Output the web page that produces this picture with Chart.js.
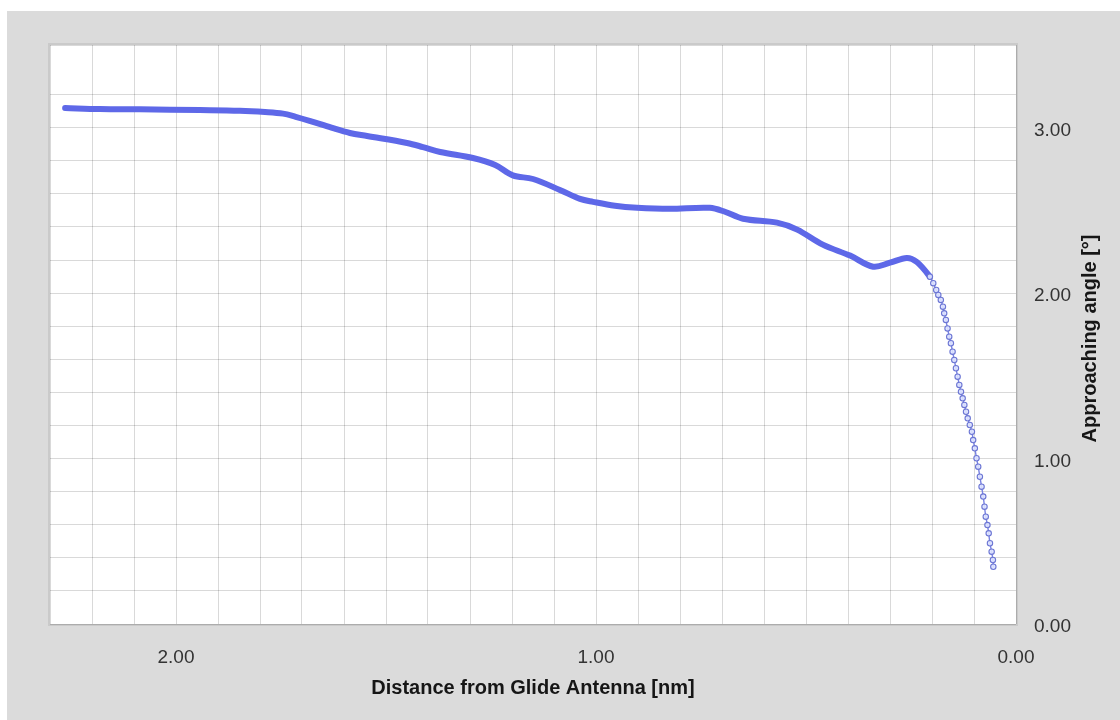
<!DOCTYPE html>
<html>
<head>
<meta charset="utf-8">
<title>Approaching angle vs distance</title>
<script src="https://cdn.jsdelivr.net/npm/chart.js@4.4.0/dist/chart.umd.min.js"></script>
<style>
  html, body { margin: 0; padding: 0; background: #ffffff; }
  #wrap { width: 1120px; height: 720px; position: relative; }
  canvas { display: block; }
</style>
</head>
<body>
<div id="wrap"><canvas id="chart" width="1120" height="720"></canvas></div>
<script>
// Distance from the glide antenna [nm], in flight order (far to near)
const distanceNm = [
  2.264, 2.181, 2.086, 1.943, 1.848, 1.788, 1.745, 1.715, 1.680, 1.630,
  1.586, 1.545, 1.450, 1.412, 1.371, 1.293, 1.240, 1.198, 1.150, 1.086,
  1.038, 1.007, 0.955, 0.902, 0.824, 0.729, 0.693, 0.650, 0.569, 0.521,
  0.460, 0.395, 0.340, 0.300, 0.260, 0.236,
  0.205, 0.197, 0.190, 0.185, 0.179, 0.174, 0.171, 0.167, 0.163, 0.159,
  0.155, 0.151, 0.147, 0.143, 0.139, 0.135, 0.131, 0.127, 0.123, 0.119,
  0.115, 0.110, 0.105, 0.102, 0.098, 0.094, 0.090, 0.086, 0.082, 0.078,
  0.075, 0.072, 0.068, 0.065, 0.062, 0.058, 0.055, 0.054
];

// Approaching angle [deg] at each distance
const angleDeg = [
  3.119, 3.113, 3.111, 3.107, 3.103, 3.095, 3.085, 3.066, 3.040, 3.000,
  2.968, 2.950, 2.908, 2.883, 2.853, 2.817, 2.775, 2.712, 2.690, 2.624,
  2.570, 2.552, 2.528, 2.516, 2.510, 2.516, 2.492, 2.450, 2.426, 2.384,
  2.293, 2.227, 2.160, 2.184, 2.213, 2.188,
  2.099, 2.060, 2.019, 1.989, 1.959, 1.918, 1.878, 1.838, 1.787, 1.737,
  1.697, 1.646, 1.596, 1.546, 1.495, 1.445, 1.404, 1.364, 1.324, 1.283,
  1.243, 1.203, 1.162, 1.112, 1.062, 1.002, 0.951, 0.890, 0.830, 0.770,
  0.709, 0.649, 0.598, 0.548, 0.488, 0.437, 0.387, 0.346
];

// Labelled tick values
const xTickLabels = [0, 1, 2];
const yTickLabels = [0, 1, 2, 3];

const xTitle = 'Distance from Glide Antenna [nm]';
const yTitle = 'Approaching angle [°]';

const points = distanceNm.map((d, i) => ({ x: d, y: angleDeg[i] }));

const FONT = '"Liberation Sans", Arial, Helvetica, sans-serif';
const GRID = 'rgba(0,0,0,0.15)';

function labelFor(value, list) {
  const hit = list.find(v => Math.abs(v - value) < 1e-6);
  return hit === undefined ? '' : hit.toFixed(2);
}

// Grey panel, framed white plot area and the upward-reading right-hand title
const framePlugin = {
  id: 'frame',
  beforeDraw(chart) {
    const { ctx, chartArea: a, width, height } = chart;
    ctx.save();
    ctx.fillStyle = '#ffffff';
    ctx.fillRect(0, 0, width, height);
    ctx.fillStyle = '#dbdbdb';
    ctx.fillRect(7, 11, width - 7, height - 11);
    ctx.fillStyle = '#cacaca';
    ctx.fillRect(a.left - 2, a.top - 2, a.right - a.left + 4, a.bottom - a.top + 4);
    ctx.fillStyle = '#ffffff';
    ctx.fillRect(a.left, a.top, a.right - a.left, a.bottom - a.top);
    ctx.restore();
  },
  afterDraw(chart) {
    const { ctx, chartArea: a } = chart;
    ctx.save();
    ctx.translate(1090, (a.top + a.bottom) / 2 + 4);
    ctx.rotate(-Math.PI / 2);
    ctx.font = 'bold 20px ' + FONT;
    ctx.fillStyle = '#161616';
    ctx.textAlign = 'center';
    ctx.textBaseline = 'middle';
    ctx.fillText(yTitle, 0, 0);
    ctx.restore();
  }
};

// Near the antenna the samples spread apart and are drawn as thin line + markers
const THICK_UNTIL = 0.2;
const MARKERS_FROM = 0.206;
const BAND = 'rgb(94,104,232)';

new Chart(document.getElementById('chart'), {
  type: 'line',
  data: {
    datasets: [{
      data: points,
      borderColor: BAND,
      borderWidth: 6,
      borderCapStyle: 'round',
      borderJoinStyle: 'round',
      tension: 0.35,
      fill: false,
      segment: {
        borderWidth: ctx => ctx.p1.parsed.x >= THICK_UNTIL ? 6 : 1.4,
        borderColor: ctx => ctx.p1.parsed.x >= THICK_UNTIL ? BAND : 'rgb(120,130,226)'
      },
      pointRadius: ctx => (ctx.raw && ctx.raw.x < MARKERS_FROM) ? 2.7 : 0,
      pointBorderWidth: 1.1,
      pointBorderColor: 'rgb(108,118,212)',
      pointBackgroundColor: 'rgba(222,227,255,0.9)',
      pointHoverRadius: 0
    }]
  },
  options: {
    responsive: false,
    animation: false,
    devicePixelRatio: 1,
    layout: { padding: { left: 50, top: 45, right: 0, bottom: 0 } },
    plugins: {
      legend: { display: false },
      tooltip: { enabled: false }
    },
    scales: {
      x: {
        type: 'linear',
        reverse: true,
        min: 0,
        max: 2.3,
        afterFit: s => { s.height = 96; },
        grid: { color: GRID, lineWidth: 1, drawTicks: false },
        border: { display: false },
        ticks: {
          stepSize: 0.1,
          autoSkip: false,
          maxRotation: 0,
          padding: 22,
          color: '#333333',
          font: { family: FONT, size: 19 },
          callback: v => labelFor(v, xTickLabels)
        },
        title: {
          display: true,
          text: xTitle,
          color: '#161616',
          font: { family: FONT, size: 20, weight: 'bold' },
          padding: { top: 0, bottom: 20 }
        }
      },
      y: {
        position: 'right',
        min: 0,
        max: 3.5,
        afterFit: s => { s.width = 104; },
        grid: { color: GRID, lineWidth: 1, drawTicks: false },
        border: { display: false },
        ticks: {
          stepSize: 0.2,
          autoSkip: false,
          padding: 18,
          labelOffset: 3,
          color: '#333333',
          font: { family: FONT, size: 19 },
          callback: v => labelFor(v, yTickLabels)
        }
      }
    }
  },
  plugins: [framePlugin]
});
</script>
</body>
</html>
